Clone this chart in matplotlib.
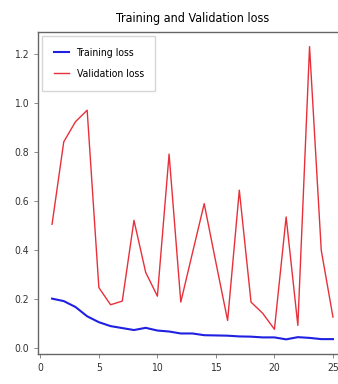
import matplotlib
matplotlib.use("Agg")
import matplotlib.pyplot as plt

epochs = list(range(1, 26))
train_loss = [0.203, 0.193, 0.169, 0.131, 0.107, 0.091, 0.083, 0.075, 0.084, 0.073,
              0.069, 0.061, 0.061, 0.054, 0.053, 0.052, 0.049, 0.048, 0.045, 0.045,
              0.037, 0.046, 0.043, 0.038, 0.038]
val_loss = [0.506, 0.842, 0.924, 0.971, 0.248, 0.178, 0.193, 0.522, 0.31, 0.213,
            0.792, 0.189, 0.39, 0.59, 0.35, 0.114, 0.645, 0.189, 0.143, 0.078,
            0.536, 0.094, 1.23, 0.40, 0.128]
title = "Training and Validation loss"
labels = ["Training loss", "Validation loss"]

plt.rcParams['font.family'] = ['DejaVu Sans']
plt.rcParams['font.stretch'] = 'condensed'
W, H = 338, 384
fig = plt.figure(figsize=(W / 100, H / 100), dpi=100)
ax = fig.add_axes([38 / W, 1 - 354 / H, (347 - 38) / W, (354 - 32) / H])
ax.plot(epochs, train_loss, color='#2020e0', lw=1.5, label=labels[0])
ax.plot(epochs, val_loss, color='#e8303a', lw=1.0, label=labels[1])
ax.set_title(title, fontsize=9, pad=7, fontstretch='condensed')
ax.set_xticks([0, 5, 10, 15, 20, 25])
ax.set_yticks([0.0, 0.2, 0.4, 0.6, 0.8, 1.0, 1.2])
ax.tick_params(labelsize=7.5, length=3, width=0.6, color='#777', labelcolor='#333')
for s in ax.spines.values():
    s.set_color('#666')
    s.set_linewidth(1.0)
leg = ax.legend(loc='upper left', labelspacing=1.1, handlelength=1.5,
                handletextpad=0.7, borderpad=1.1, borderaxespad=0.4,
                fancybox=False, edgecolor='#ccc',
                prop={'size': 7.5, 'stretch': 'condensed'})
fig.savefig("out.png", dpi=100)
